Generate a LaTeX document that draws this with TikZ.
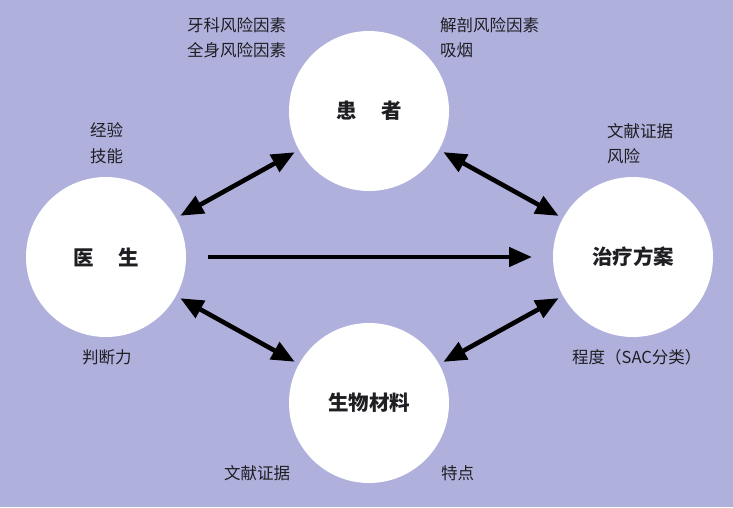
\documentclass[tikz,border=0pt]{standalone}
\usepackage{fontspec}
\setmainfont{Noto Sans CJK SC}
\newfontfamily\cjk{Noto Sans CJK SC}
\usetikzlibrary{arrows.meta}
\definecolor{bgc}{RGB}{176,176,221}
\definecolor{txt}{RGB}{30,30,35}
\tikzset{
  hub/.style={circle,fill=white,draw=none,minimum size=160pt,inner sep=0pt,outer sep=0pt,
    font=\cjk\bfseries\fontsize{20.5}{24}\selectfont,text=txt},
  lbl/.style={anchor=west,inner sep=0pt,font=\cjk\fontsize{16.5}{20}\selectfont,text=txt},
  tip/.style={Triangle[length=23pt,width=19pt]},
  link/.style={line width=4.6pt,draw=black,{Triangle[length=23pt,width=19pt]}-{Triangle[length=23pt,width=19pt]},shorten <=5pt,shorten >=5pt},
  flow/.style={line width=4.6pt,draw=black,-{Triangle[length=23pt,width=19pt]},shorten <=22pt,shorten >=21pt}
}
\begin{document}
\begin{tikzpicture}[x=1pt,y=-1pt]
\fill[bgc] (0,0) rectangle (733,507);
\useasboundingbox (0,0) rectangle (733,507);
\node[hub] (pat) at (369,111) {患\hspace{1.2em}者};
\node[hub] (doc) at (106,257) {医\hspace{1.2em}生};
\node[hub] (tx) at (633,257) {治疗方案};
\node[hub] (bio) at (369,403) {生物材料};
\draw[flow] (doc) -- (tx);
\draw[link] (doc) -- (pat);
\draw[link] (pat) -- (tx);
\draw[link] (doc) -- (bio);
\draw[link] (tx) -- (bio);
\node[lbl] (l1) at (187,25.5) {牙科风险因素};
\node[lbl] (l2) at (187,50.5) {全身风险因素};
\node[lbl] (l3) at (440,25.5) {解剖风险因素};
\node[lbl] (l4) at (440,50.5) {吸烟};
\node[lbl] (l5) at (90,130) {经验};
\node[lbl] (l6) at (90,156) {技能};
\node[lbl] (l7) at (607,131) {文献证据};
\node[lbl] (l8) at (607,156) {风险};
\node[lbl] (l9) at (82,357) {判断力};
\node[lbl] (l10) at (572,357) {程度（SAC分类）};
\node[lbl] (l11) at (224,473) {文献证据};
\node[lbl] (l12) at (441,473) {特点};
\end{tikzpicture}
\end{document}
